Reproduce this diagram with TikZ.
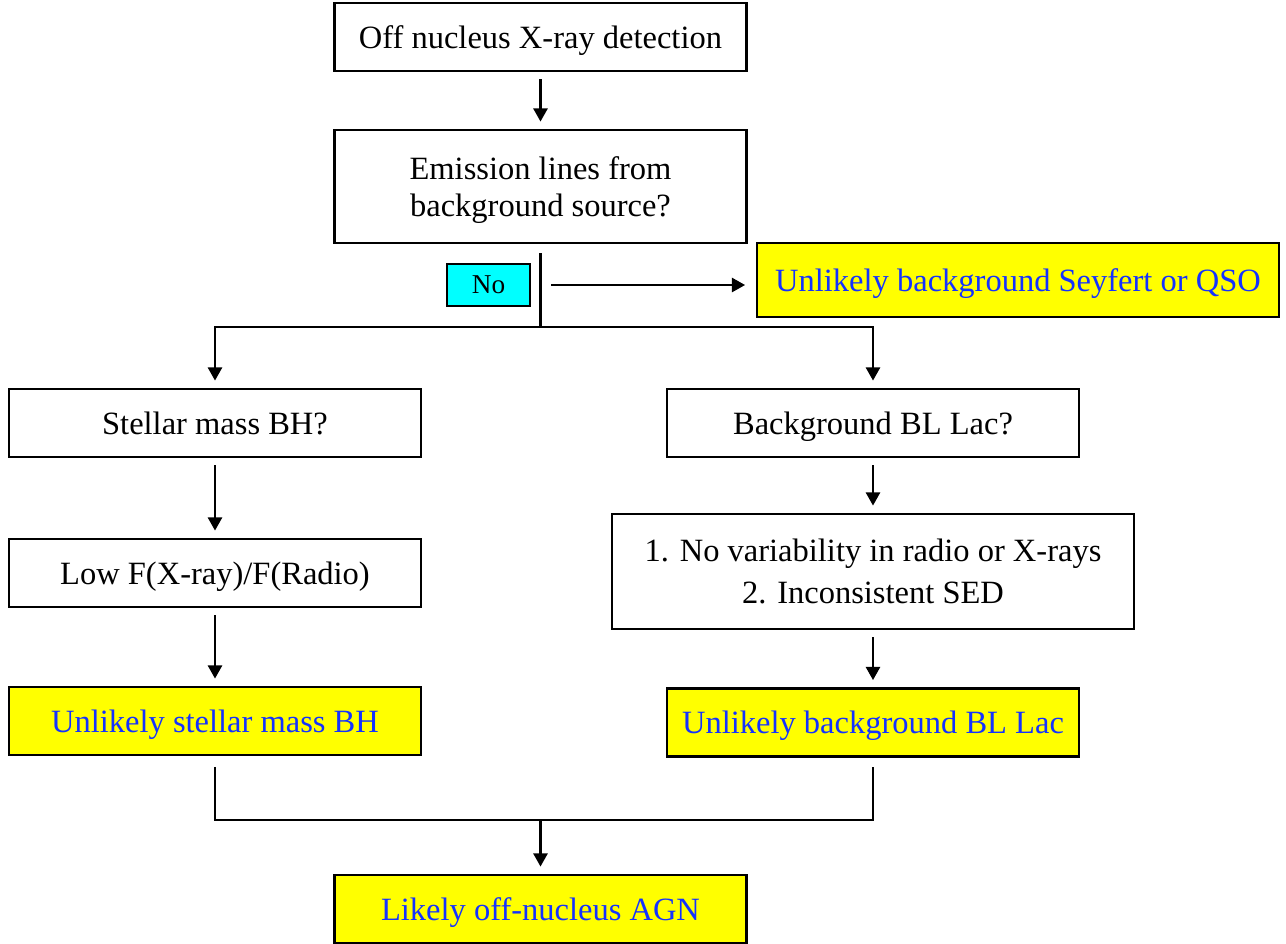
\documentclass[tikz,border=0pt]{standalone}
\usepackage{fontspec}
\setmainfont{Liberation Serif}
\usetikzlibrary{arrows.meta}
\definecolor{lblue}{RGB}{20,50,255}
\definecolor{ycol}{RGB}{255,255,0}
\definecolor{ccol}{RGB}{0,255,255}
\begin{document}
\begin{tikzpicture}[x=0.02cm,y=-0.02cm,line width=1.4pt,>={Triangle[length=7.5pt,width=8pt]},shorten >=4pt,shorten <=4pt]
\tikzstyle{box}=[rectangle,draw,line width=1.6pt,minimum width=8.24cm,minimum height=1.36cm,inner sep=2pt,text depth=0pt,align=center,font=\fontsize{18.5}{21}\selectfont]
\tikzstyle{ans}=[box,fill=ycol,text=lblue]
\useasboundingbox (0,0) rectangle (1286,944);
\node[box](D) at (540.5,37) {Off nucleus X-ray detection};
\node[box,minimum height=2.26cm](E) at (540.5,186.5) {Emission lines from\\background source?};
\node[box,fill=ccol,minimum width=1.66cm,minimum height=0.84cm,font=\fontsize{15.5}{18}\selectfont](No) at (488.5,285) {No};
\node[ans,minimum width=10.44cm,minimum height=1.48cm](QSO) at (1018,280) {Unlikely background Seyfert or QSO};
\node[box](BH) at (215,423) {Stellar mass BH?};
\node[box](BL) at (873,423) {Background BL Lac?};
\node[box](LF) at (215,573) {Low F(X-ray)/F(Radio)};
\node[box,minimum width=10.44cm,minimum height=2.3cm,font=\fontsize{18.5}{24}\selectfont](SED) at (873,571.5) {1. No variability in radio or X-rays\\2. Inconsistent SED};
\node[ans](UBH) at (215,721) {Unlikely stellar mass BH};
\node[ans](UBL) at (873,722.5) {Unlikely background BL Lac};
\node[ans](AGN) at (540.5,909) {Likely off-nucleus AGN};
\coordinate (split) at (540.5,327);
\coordinate (merge) at (540.5,820);

\draw[->] (D) -- (E);
\draw[shorten >=0pt,shorten <=5pt] (E) -- (split);
\draw[->,shorten <=6pt,shorten >=6pt] (No -| split) -- (No -| QSO.west);
\draw[->,shorten <=0pt] (split) -| (BH);
\draw[->,shorten <=0pt] (split) -| (BL);
\draw[->] (BH) -- (LF);
\draw[->] (LF) -- (UBH);
\draw[->] (BL) -- (SED);
\draw[->] (SED) -- (UBL);
\draw[shorten <=6pt,shorten >=5pt] (UBH) |- (merge) -| (UBL);
\draw[->,shorten <=0pt] (merge) -- (AGN);
\end{tikzpicture}
\end{document}
